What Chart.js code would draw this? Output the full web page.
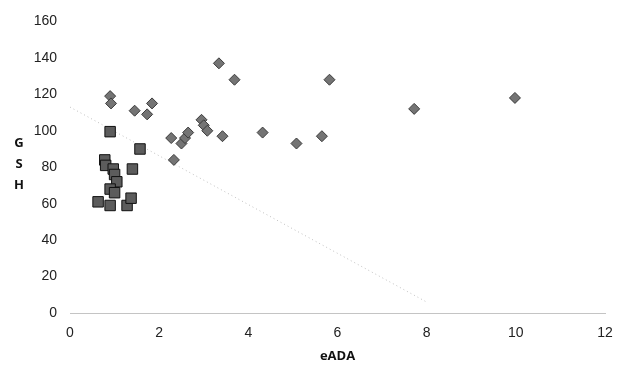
<!DOCTYPE html>
<html>
<head>
<meta charset="utf-8">
<script src="https://cdn.jsdelivr.net/npm/chart.js@4.4.0/dist/chart.umd.min.js"></script>
<style>
  body { margin: 0; background: #fff; }
  #wrap { position: relative; width: 626px; height: 365px; }
  #ytitle {
    position: absolute; left: 12px; top: 132px; width: 14px;
    font: bold 13px "Open Sans", sans-serif; color: #111;
    text-align: center; line-height: 21px;
  }
</style>
</head>
<body>
<div id="wrap">
  <canvas id="chart" width="626" height="365"></canvas>
  <div id="ytitle">G<br>S<br>H</div>
</div>
<script>
// diamond series (higher group)
const diamondX = [0.9, 0.92, 1.45, 1.84, 1.73, 2.27, 2.33, 2.5, 2.58, 2.65, 2.95, 3.0, 3.08, 3.34, 3.69, 3.42, 4.32, 5.08, 5.82, 5.65, 7.72, 9.98];
const diamondY = [119, 115, 111, 115, 109, 96, 84, 93, 96, 99, 106, 103, 100, 137, 128, 97, 99, 93, 128, 97, 112, 118];

// square series (low eADA cluster)
const squareX = [0.9, 1.57, 0.78, 0.8, 0.97, 1.4, 1.0, 1.05, 0.9, 1.0, 0.63, 0.9, 1.28, 1.37];
const squareY = [99.5, 90, 84, 81, 79, 79, 76, 72, 68, 66, 61, 59, 59, 63];

// trend line end points
const trendX = [0, 8.0];
const trendY = [113, 6];

const xTicks = [0, 2, 4, 6, 8, 10, 12];
const yTicks = [0, 20, 40, 60, 80, 100, 120, 140, 160];

function toPoints(xs, ys) {
    return xs.map((x, i) => ({ x: x, y: ys[i] }));
}

Chart.defaults.font.family = '"Liberation Sans", Arial, sans-serif';
Chart.defaults.font.size = 14;
Chart.defaults.color = '#222';

const ctx = document.getElementById('chart').getContext('2d');
new Chart(ctx, {
    type: 'scatter',
    data: {
        datasets: [
            {
                label: 'group 1',
                data: toPoints(diamondX, diamondY),
                pointStyle: 'rectRot',
                pointRadius: 5.5,
                backgroundColor: '#747474',
                borderColor: '#3a3a3a',
                borderWidth: 1
            },
            {
                label: 'group 2',
                data: toPoints(squareX, squareY),
                pointStyle: 'rect',
                pointRadius: 7.4,
                backgroundColor: '#5c5c5c',
                borderColor: '#111',
                borderWidth: 1
            },
            {
                label: 'trend',
                type: 'line',
                data: toPoints(trendX, trendY),
                showLine: true,
                pointRadius: 0,
                borderColor: '#c0c0c0',
                borderWidth: 1,
                borderDash: [1, 3],
                fill: false
            }
        ]
    },
    options: {
        responsive: false,
        animation: false,
        layout: { padding: { top: 18, right: 21, left: 0, bottom: 0 } },
        scales: {
            x: {
                type: 'linear',
                min: xTicks[0],
                max: xTicks[xTicks.length - 1],
                afterBuildTicks: scale => { scale.ticks = xTicks.map(v => ({ value: v })); },
                afterFit: scale => { scale.height = 52; },
                grid: { display: false, drawTicks: false },
                border: { display: true, color: '#c4c4c4', width: 1, dash: [1, 4] },
                ticks: { padding: 12, maxRotation: 0 },
                title: {
                    display: true,
                    text: 'eADA',
                    font: { weight: 'bold', size: 13, family: '"Open Sans", sans-serif' },
                    color: '#111',
                    padding: { top: 9, bottom: 1 }
                }
            },
            y: {
                type: 'linear',
                min: yTicks[0],
                max: yTicks[yTicks.length - 1],
                afterBuildTicks: scale => { scale.ticks = yTicks.map(v => ({ value: v })); },
                afterFit: scale => { scale.width = 70; },
                grid: { display: false, drawTicks: false },
                border: { display: false },
                ticks: { padding: 13 }
            }
        },
        plugins: {
            legend: { display: false },
            tooltip: { enabled: false }
        }
    }
});
</script>
</body>
</html>
